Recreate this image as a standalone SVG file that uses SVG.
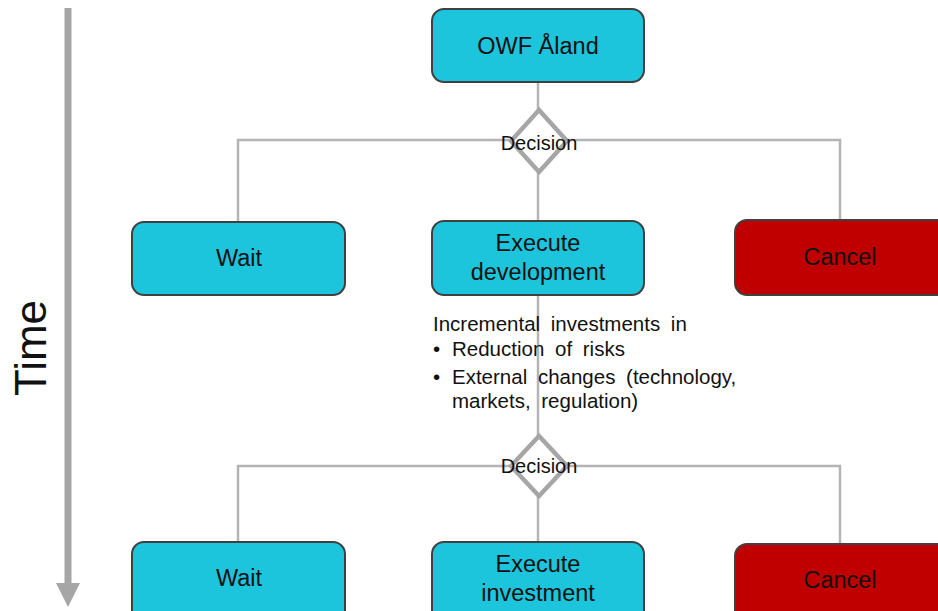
<svg xmlns="http://www.w3.org/2000/svg" width="938" height="611" viewBox="0 0 938 611">
<style>
.box{fill:#1CC4DC;stroke:#404040;stroke-width:2}
.red{fill:#C00000;stroke:#404040;stroke-width:2}
.lbl{font-family:"Liberation Sans",Arial,sans-serif;font-size:23.5px;fill:#111;text-anchor:middle;dominant-baseline:central}
.dec{font-family:"Liberation Sans",Arial,sans-serif;font-size:20px;fill:#111;text-anchor:middle;dominant-baseline:central}
.note{font-family:"Liberation Sans",Arial,sans-serif;font-size:20.5px;fill:#111;word-spacing:5px}
.con{stroke:#B4B4B4;stroke-width:2.5;fill:none}
.dia{fill:#fff;stroke:#A6A6A6;stroke-width:4.5}
</style>
<rect width="938" height="611" fill="#fff"/>
<g id="time-axis">
<line x1="68" y1="8" x2="68" y2="585" stroke="#A6A6A6" stroke-width="7"/>
<path d="M56,583 L80,583 L68,607 Z" fill="#A6A6A6"/>
<text class="lbl" transform="translate(30,348) rotate(-90)" style="font-size:44px">Time</text>
</g>
<g id="connectors">
<line class="con" x1="538" y1="82" x2="538" y2="221"/>
<polyline class="con" points="238,222 238,140 840,140 840,220"/>
<line class="con" x1="538" y1="295" x2="538" y2="542"/>
<polyline class="con" points="238,542 238,466 840,466 840,544"/>
</g>
<g id="decision1">
<path class="dia" d="M539,110 L567,141 L539,172 L511,141 Z"/>
<text class="dec" x="539" y="143">Decision</text>
</g>
<g id="decision2">
<path class="dia" d="M539,436 L567,466 L539,496 L511,466 Z"/>
<text class="dec" x="539" y="466">Decision</text>
</g>
<g id="owf">
<rect class="box" x="432" y="9" width="212" height="73" rx="12"/>
<text class="lbl" x="538" y="46">OWF Åland</text>
</g>
<g id="wait1">
<rect class="box" x="132" y="222" width="213" height="73" rx="12"/>
<text class="lbl" x="239" y="258">Wait</text>
</g>
<g id="execdev">
<rect class="box" x="432" y="221" width="212" height="74" rx="12"/>
<text class="lbl" x="538" y="243">Execute</text>
<text class="lbl" x="538" y="272">development</text>
</g>
<g id="cancel1">
<rect class="red" x="735" y="220" width="215" height="75" rx="12"/>
<text class="lbl" x="840" y="257">Cancel</text>
</g>
<g id="note">
<text class="note" x="433" y="331">Incremental investments  in</text>
<text class="note" x="433" y="356">•</text>
<text class="note" x="452" y="356">Reduction of risks</text>
<text class="note" x="433" y="384">•</text>
<text class="note" x="452" y="384">External changes (technology,</text>
<text class="note" x="452" y="408">markets, regulation)</text>
</g>
<g id="wait2">
<rect class="box" x="132" y="542" width="213" height="80" rx="12"/>
<text class="lbl" x="239" y="578">Wait</text>
</g>
<g id="execinv">
<rect class="box" x="432" y="542" width="212" height="80" rx="12"/>
<text class="lbl" x="538" y="564">Execute</text>
<text class="lbl" x="538" y="593">investment</text>
</g>
<g id="cancel2">
<rect class="red" x="735" y="544" width="215" height="80" rx="12"/>
<text class="lbl" x="840" y="580">Cancel</text>
</g>
</svg>
